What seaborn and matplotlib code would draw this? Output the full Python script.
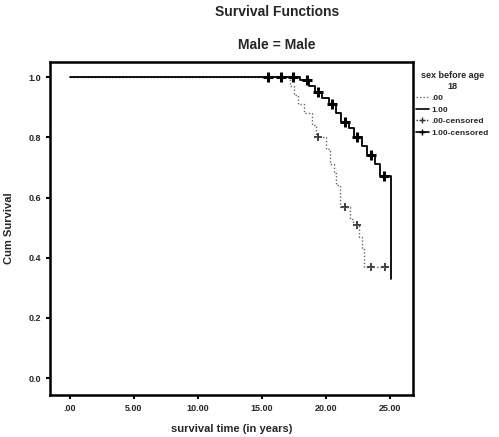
import pandas as pd
import matplotlib
matplotlib.use('Agg')
import matplotlib.pyplot as plt
import seaborn as sns
from matplotlib.lines import Line2D

# Kaplan-Meier steps
upper_t = [0.0, 18.0, 18.7, 19.1, 19.7, 20.2, 20.8, 21.2, 21.8, 22.2, 22.8, 23.2, 23.8, 24.2, 25.1]
upper_s = [1.0, 0.99, 0.97, 0.95, 0.93, 0.91, 0.88, 0.85, 0.83, 0.80, 0.77, 0.74, 0.71, 0.67, 0.33]
upper_cens_t = [15.5, 16.5, 17.4, 18.5, 19.4, 20.5, 21.5, 22.4, 23.5, 24.5]
upper_cens_s = [1.0, 1.0, 1.0, 0.99, 0.95, 0.91, 0.85, 0.80, 0.74, 0.67]

lower_t = [0.0, 17.2, 17.5, 17.8, 18.3, 18.9, 19.2, 20.0, 20.3, 20.6, 20.8, 21.1, 21.9, 22.1, 22.6, 22.8, 23.0, 24.6]
lower_s = [1.0, 0.97, 0.94, 0.91, 0.88, 0.84, 0.80, 0.76, 0.71, 0.68, 0.64, 0.57, 0.53, 0.51, 0.47, 0.43, 0.37, 0.37]
lower_cens_t = [19.4, 21.5, 22.4, 23.5, 24.6]
lower_cens_s = [0.80, 0.57, 0.51, 0.37, 0.37]

groups = [".00", "1.00"]
x_ticks = [0, 5, 10, 15, 20, 25]
x_labels = [".00", "5.00", "10.00", "15.00", "20.00", "25.00"]
y_ticks = [0.0, 0.2, 0.4, 0.6, 0.8, 1.0]

sns.set_style("ticks")
plt.rcParams['font.family'] = ['Liberation Sans', 'DejaVu Sans']
plt.rcParams['font.weight'] = 'bold'

curves = pd.concat([
    pd.DataFrame({"t": lower_t, "s": lower_s, "grp": groups[0]}),
    pd.DataFrame({"t": upper_t, "s": upper_s, "grp": groups[1]}),
])
cens = pd.concat([
    pd.DataFrame({"t": lower_cens_t, "s": lower_cens_s, "grp": groups[0]}),
    pd.DataFrame({"t": upper_cens_t, "s": upper_cens_s, "grp": groups[1]}),
])

fig = plt.figure(figsize=(4.99, 4.37), dpi=100)
ax = fig.add_axes([0.100, 0.096, 0.728, 0.762])

sns.lineplot(data=curves[curves.grp == groups[0]], x="t", y="s", ax=ax,
             estimator=None, sort=False, drawstyle="steps-post",
             color="#666666", lw=1.0, linestyle=(0, (1, 1.5)))
sns.lineplot(data=curves[curves.grp == groups[1]], x="t", y="s", ax=ax,
             estimator=None, sort=False, drawstyle="steps-post",
             color="black", lw=1.3)
sns.scatterplot(data=cens[cens.grp == groups[0]], x="t", y="s", ax=ax,
                marker="+", s=40, color="#333333", linewidth=1.3)
sns.scatterplot(data=cens[cens.grp == groups[1]], x="t", y="s", ax=ax,
                marker="+", s=55, color="black", linewidth=2.2)

ax.set_xlim(-1.56, 26.8)
ax.set_ylim(-0.056, 1.05)
ax.set_xticks(x_ticks)
ax.set_xticklabels(x_labels)
ax.set_yticks(y_ticks)
ax.set_yticklabels([f"{v:.1f}" for v in y_ticks])
ax.tick_params(labelsize=6.5, width=1.5, length=3, color="black")
for sp in ax.spines.values():
    sp.set_linewidth(1.8)
    sp.set_color("black")
ax.set_xlabel("survival time (in years)", fontsize=8, fontweight="bold", labelpad=8)
ax.set_ylabel("Cum Survival", fontsize=8, fontweight="bold", labelpad=10)

fig.text(0.555, 0.972, "Survival Functions", ha="center", va="center",
         fontsize=10, fontweight="bold")
fig.text(0.555, 0.897, "Male = Male", ha="center", va="center",
         fontsize=10, fontweight="bold")

handles = [
    Line2D([], [], color="#666666", lw=1.0, linestyle=(0, (1, 1.5))),
    Line2D([], [], color="black", lw=1.2),
    Line2D([], [], color="#333333", lw=1.0, linestyle=(0, (1, 1.5)), marker="+", ms=5),
    Line2D([], [], color="black", lw=1.2, marker="+", ms=5),
]
labels = [".00", "1.00", ".00-censored", "1.00-censored"]
leg = ax.legend(handles, labels, title="sex before age\n18", loc="upper left",
                bbox_to_anchor=(1.0, 0.98), frameon=False, fontsize=6,
                title_fontproperties={"size": 6.5, "weight": "bold"},
                handlelength=1.6, handletextpad=0.3, labelspacing=0.45,
                borderaxespad=0.2, borderpad=0.1)
leg.get_title().set_multialignment("center")

fig.savefig("out.png", dpi=100)
